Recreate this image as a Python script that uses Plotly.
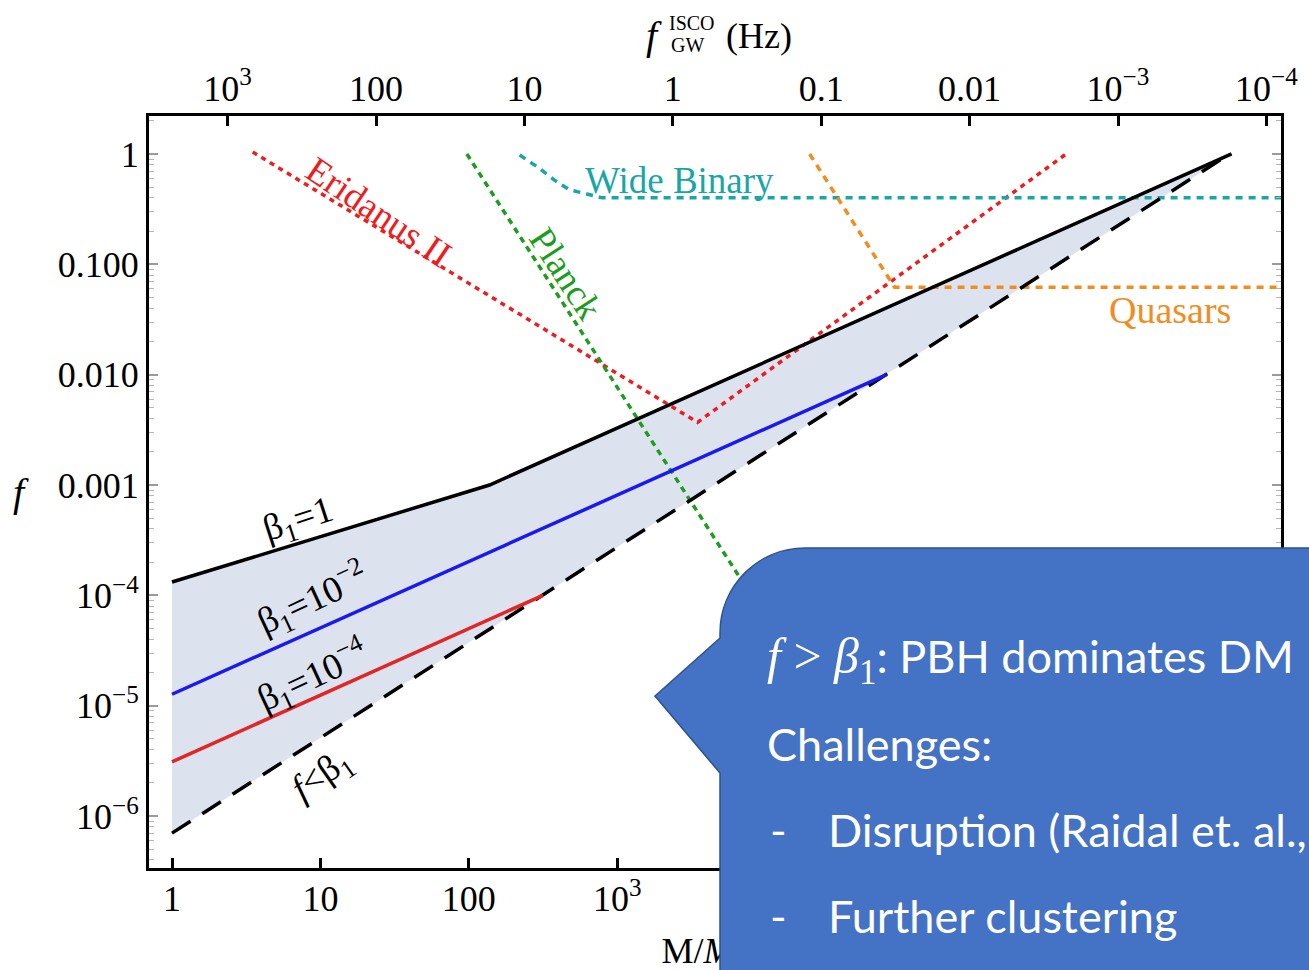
import numpy as np
import plotly.graph_objects as go

# ---- data: PBH mass M (solar masses) vs. abundance f ----
beta1_1_mass = [1, 138, 1.38e7]
beta1_1_f = [1.32e-4, 1.0e-3, 1.0]

beta1_e2_mass = [1, 6.53e4]
beta1_e2_f = [1.27e-5, 1.0e-2]

beta1_e4_mass = [1, 316]
beta1_e4_f = [3.1e-6, 1.0e-4]

f_lt_beta1_mass = [1, 1.26e7]
f_lt_beta1_f = [7.0e-7, 0.95]

eridanus_mass = [3.5, 3480, 1.06e6]
eridanus_f = [1.04, 3.7e-3, 1.0]

planck_mass = [97, 6.3e4]
planck_f = [1.0, 1.35e-6]

wide_binary_mass = [220, 295, 392, 479, 624, 794, 3.3e7]
wide_binary_f = [0.98, 0.75, 0.557, 0.472, 0.434, 0.40, 0.40]

quasar_mass = [1.98e4, 7.4e4, 3.3e7]
quasar_f = [1.0, 0.062, 0.062]

# ISCO gravitational-wave frequency of a 1 M_sun binary (Hz); f_GW scales as 1/M
F_ISCO_1MSUN = 2.37e3

# ---- tick labels ----
mass_ticks = [1, 10, 100, 1e3, 1e4, 1e5, 1e6, 1e7]
mass_ticktext = ["1", "10", "100", "10<sup>3</sup>", "10<sup>4</sup>",
                 "10<sup>5</sup>", "10<sup>6</sup>", "10<sup>7</sup>"]
f_ticks = [1, 0.1, 0.01, 0.001, 1e-4, 1e-5, 1e-6]
f_ticktext = ["1", "0.100", "0.010", "0.001", "10<sup>−4</sup>",
              "10<sup>−5</sup>", "10<sup>−6</sup>"]
freq_ticks = [1e3, 100, 10, 1, 0.1, 0.01, 1e-3, 1e-4]
freq_ticktext = ["10<sup>3</sup>", "100", "10", "1", "0.1", "0.01",
                 "10<sup>−3</sup>", "10<sup>−4</sup>"]
mass_title = "M/<i>M</i><sub>⊙</sub>"

# ---- geometry ----
W, H = 1309, 970
L, R, T, B = 149, 28, 116, 102
PW, PH = W - L - R, H - T - B
logM_range = [-0.155, 7.473]
logf_range = [-6.471, 0.344]
logF = np.log10(F_ISCO_1MSUN)
freq_range = [logF - logM_range[0], logF - logM_range[1]]


def X(p):
    return (p - L) / PW


def Y(p):
    return (H - B - p) / PH


def mass_at(p):
    # mass at a horizontal pixel position inside the plot
    return 10 ** (logM_range[0] + (p - L) / PW * (logM_range[1] - logM_range[0]))


SERIF = "Liberation Serif"
SANS = "Lato"
TICKFONT = dict(family=SERIF, size=36, color="black")

fig = go.Figure()

# shaded band between beta_1 = 1 and f < beta_1
fig.add_trace(go.Scatter(
    x=beta1_1_mass + f_lt_beta1_mass[::-1],
    y=beta1_1_f + f_lt_beta1_f[::-1],
    fill="toself", fillcolor="#dde3ee", line=dict(width=0),
    mode="lines", hoverinfo="skip"))

# observational constraints
fig.add_trace(go.Scatter(x=eridanus_mass, y=eridanus_f, mode="lines",
                         line=dict(color="#ee1c1c", width=3.5, dash="5px,5px")))
fig.add_trace(go.Scatter(x=planck_mass, y=planck_f, mode="lines",
                         line=dict(color="#1c9e1c", width=3.5, dash="6px,5px")))
fig.add_trace(go.Scatter(x=wide_binary_mass, y=wide_binary_f, mode="lines",
                         line=dict(color="#1aa6a6", width=3.5, dash="7px,6px")))
fig.add_trace(go.Scatter(x=quasar_mass, y=quasar_f, mode="lines",
                         line=dict(color="#f28c1e", width=3.5, dash="7px,6px")))

# beta_1 curves
fig.add_trace(go.Scatter(x=f_lt_beta1_mass, y=f_lt_beta1_f, mode="lines",
                         line=dict(color="black", width=3.5, dash="22px,14px")))
fig.add_trace(go.Scatter(x=beta1_e4_mass, y=beta1_e4_f, mode="lines",
                         line=dict(color="#e02626", width=3.5)))
fig.add_trace(go.Scatter(x=beta1_e2_mass, y=beta1_e2_f, mode="lines",
                         line=dict(color="#1a1af0", width=3.5)))
fig.add_trace(go.Scatter(x=beta1_1_mass, y=beta1_1_f, mode="lines",
                         line=dict(color="black", width=3.5)))

# carriers for the top frequency axis and the mass-title axis
fig.add_trace(go.Scatter(x=[1], y=[1], xaxis="x2", mode="markers",
                         marker=dict(opacity=0), hoverinfo="skip"))
fig.add_trace(go.Scatter(x=[1], y=[1], xaxis="x3", mode="markers",
                         marker=dict(opacity=0), hoverinfo="skip"))

minor_f = [m * 10.0 ** e for e in range(-7, 1) for m in range(2, 10)]

fig.update_layout(
    width=W, height=H,
    margin=dict(l=L, r=R, t=T, b=B, pad=0, autoexpand=False),
    plot_bgcolor="white", paper_bgcolor="white", showlegend=False,
    xaxis=dict(type="log", range=logM_range, tickmode="array",
               tickvals=mass_ticks, ticktext=mass_ticktext,
               ticks="inside", ticklen=10, tickwidth=2.5, tickcolor="black",
               showline=True, linewidth=3, linecolor="black", mirror=True,
               showgrid=False, zeroline=False, ticklabelstandoff=-3,
               automargin=False, tickfont=TICKFONT),
    xaxis2=dict(type="log", range=freq_range, overlaying="x", side="top",
                tickmode="array", tickvals=freq_ticks, ticktext=freq_ticktext,
                ticks="inside", ticklen=10, tickwidth=2.5, tickcolor="black",
                showline=True, linewidth=3, linecolor="black",
                showgrid=False, zeroline=False, ticklabelstandoff=-2,
                automargin=False, tickfont=TICKFONT),
    # mass-axis title drawn as a tick label so it stays under the callout
    xaxis3=dict(type="log", range=logM_range, overlaying="x", side="bottom",
                tickmode="array", tickvals=[mass_at(708)],
                ticktext=[mass_title], ticks="", showline=False,
                showgrid=False, zeroline=False, ticklabelstandoff=58,
                automargin=False, tickfont=TICKFONT),
    yaxis=dict(type="log", range=logf_range, tickmode="array",
               tickvals=f_ticks, ticktext=f_ticktext,
               ticks="inside", ticklen=9, tickwidth=1.5, tickcolor="#9a9a9a",
               showline=True, linewidth=3, linecolor="black", mirror="ticks",
               showgrid=False, zeroline=False, ticklabelstandoff=0,
               automargin=False, tickfont=TICKFONT,
               minor=dict(tickmode="array", tickvals=minor_f, ticks="inside",
                          ticklen=5, tickwidth=1, tickcolor="#b5b5b5",
                          showgrid=False)),
)

ann = []


def label(text, xp, yp, angle=0, color="black", size=36, family=SERIF,
          xanchor="center"):
    ann.append(dict(text=text, x=X(xp), y=Y(yp), xref="paper", yref="paper",
                    showarrow=False, textangle=angle, xanchor=xanchor,
                    yanchor="middle",
                    font=dict(family=family, size=size, color=color)))


# curve labels
label("Eridanus II", 378, 212, 34, "#ee1c1c", 37)
label("Planck", 566, 273, 57, "#1c9e1c", 37)
label("Wide Binary", 679, 180, 0, "#1aa6a6", 37)
label("Quasars", 1170, 310, 0, "#f28c1e", 38)
label("β<sub>1</sub>=1", 298, 521, -18, size=37)
label("β<sub>1</sub>=10<sup>−2</sup>", 312, 599, -25, size=37)
label("β<sub>1</sub>=10<sup>−4</sup>", 312, 676, -25, size=37)
label("<i>f</i>&lt;β<sub>1</sub>", 322, 776, -35, size=37)

# axis titles
label("<i>f</i>", 21, 492, 0, size=40)
label("<i>f</i>", 654, 36, 0, size=40)
label("ISCO", 667, 23, 0, size=20, xanchor="left")
label("GW", 669, 45, 0, size=20, xanchor="left")
label("(Hz)", 724, 36, 0, size=36, xanchor="left")

# callout balloon
pts = (f"M {X(1340)},{Y(548)} L {X(805)},{Y(548)} "
       f"C {X(758)},{Y(548)} {X(720)},{Y(586)} {X(720)},{Y(633)} "
       f"L {X(720)},{Y(638)} L {X(655)},{Y(696)} L {X(720)},{Y(773)} "
       f"L {X(720)},{Y(1000)} L {X(1340)},{Y(1000)} Z")
fig.add_shape(type="path", path=pts, xref="paper", yref="paper",
              fillcolor="#4472c4", line=dict(color="#2f528f", width=1.5),
              layer="above")

label(f"<span style=\"font-family:{SERIF};font-size:50px\"><i>f</i> &gt; <i>β</i><sub>1</sub></span>: PBH dominates DM",
      765, 660, 0, "white", 45, SANS, "left")
label("Challenges:", 765, 744, 0, "white", 45, SANS, "left")
label("-", 768, 830, 0, "white", 45, SANS, "left")
label("Disruption (Raidal et. al.,", 826, 830, 0, "white", 45, SANS, "left")
label("-", 768, 916, 0, "white", 45, SANS, "left")
label("Further clustering", 826, 916, 0, "white", 45, SANS, "left")

fig.update_layout(annotations=ann)
fig.write_html("out.html")
